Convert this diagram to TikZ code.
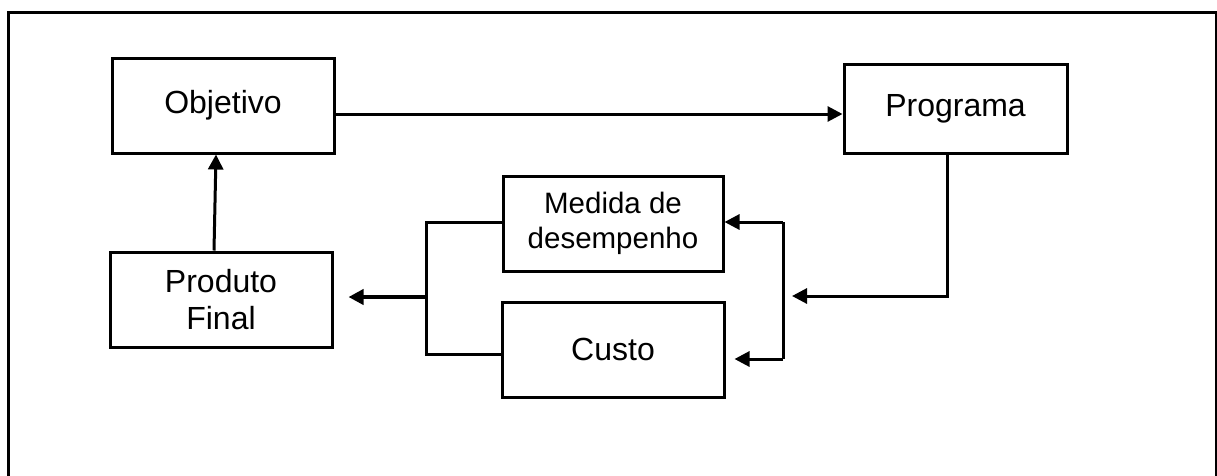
\documentclass[tikz,border=0pt]{standalone}
\usepackage{fontspec}
\setmainfont{Liberation Sans}
\usetikzlibrary{arrows.meta,calc}
\begin{document}
\begin{tikzpicture}[x=1pt,y=-1pt,
  box/.style={draw, line width=3pt, minimum width=222pt, minimum height=95pt, inner sep=0pt, align=center, font=\fontsize{32}{37}\selectfont},
  conn/.style={line width=3pt},
  arr/.style={conn, -{Triangle[length=15pt,width=15pt]}}]
\useasboundingbox (0,0) rectangle (1217,475);
\draw[line width=3pt] (8,476) -- (8,12) -- (1216,12) -- (1216,476);
\node[box] (obj) at (223,105.5) {Objetivo};
\node[box, minimum width=223pt, minimum height=89pt] (prog) at (955.5,108.5) {Programa};
\node[box, minimum width=220pt, font=\fontsize{29.5}{35}\selectfont] (med) at (613,223.5) {Medida de\\desempenho};
\node[box] (cus) at (613,349.5) {Custo};
\node[box] (prod) at (221,299.5) {Produto\\Final};
\coordinate (jl) at (426,297);
\coordinate (jr) at (783,296);
\coordinate (jrt) at (783,222);
\coordinate (jrb) at (783,359);
% Objetivo -> Programa
\draw[arr] ($(obj.east)+(0,8.5)$) -- ($(prog.west)+(0,5.5)$);
% Programa down to junction
\draw[arr] ($(prog.south west)+(105,0)$) |- ($(jr)+(9,0)$);
% right branch
\draw[conn] (jrt) -- (jrb);
\draw[arr] (jrt) -- (med.east |- jrt);
\draw[arr] (jrb) -- ($(cus.east |- jrb)+(9,0)$);
% left collector
\draw[conn] (med.west |- jrt) -| (jl) |- ($(cus.west)+(0,4.5)$);
\draw[arr, line width=4pt] (jl) -- ($(prod.east |- jl)+(15,0)$);
% Produto Final -> Objetivo
\draw[arr] ($(prod.north)+(-7,0)$) -- ($(obj.south)+(-7,0)$);
\end{tikzpicture}
\end{document}
